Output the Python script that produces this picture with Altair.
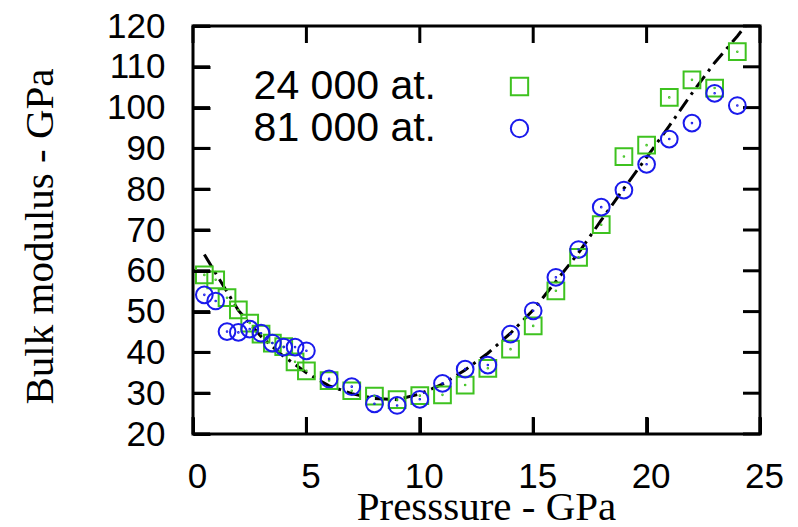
import altair as alt
import pandas as pd

# ---- data ----
series_names = ["24 000 at.", "81 000 at."]

p_24k = [0.5, 1, 1.5, 2, 2.5, 3, 3.5, 4, 4.5, 5, 6, 7, 8, 9, 10, 11, 12, 13, 14, 15,
         16, 17, 18, 19, 20, 21, 22, 23, 24]
b_24k = [59.0, 57.8, 53.4, 50.4, 47.2, 44.5, 42.3, 41.4, 37.7, 35.5, 33.1, 30.6, 29.3,
         28.4, 29.4, 29.6, 32.0, 36.1, 40.8, 46.5, 55.1, 63.3, 71.3, 88.0, 90.8, 102.5,
         106.8, 104.8, 113.7]

p_81k = [0.5, 1, 1.5, 2, 2.5, 3, 3.5, 4, 4.5, 5, 6, 7, 8, 9, 10, 11, 12, 13, 14, 15,
         16, 17, 18, 19, 20, 21, 22, 23, 24]
b_81k = [54.1, 52.6, 45.1, 44.9, 45.7, 44.7, 42.3, 41.3, 41.3, 40.4, 33.5, 31.6, 27.4,
         27.0, 28.5, 32.4, 35.9, 36.9, 44.5, 50.2, 58.4, 65.2, 75.6, 79.8, 86.1, 92.3,
         96.2, 103.5, 100.5]

fit_p = [0.5, 1, 2, 3, 4, 5, 6, 7, 8, 9, 10, 11, 12, 13, 14, 15, 16, 17, 18, 19, 20,
         21, 22, 23, 24, 24.35]
fit_b = [64.0, 59.4, 50.3, 43.9, 39.0, 35.0, 31.8, 29.9, 28.7, 28.4, 29.8, 32.2, 35.7,
         39.8, 44.7, 50.4, 57.4, 64.4, 72.4, 80.2, 87.8, 95.5, 103.5, 111.0, 117.5, 120.0]

x_ticks = [0, 5, 10, 15, 20, 25]
y_ticks = [20, 30, 40, 50, 60, 70, 80, 90, 100, 110, 120]

colors = ["#3ec21f", "#1a1aec"]
shapes = ["square", "circle"]

pts = pd.DataFrame(
    {"p": p_24k + p_81k,
     "b": b_24k + b_81k,
     "series": [series_names[0]] * len(p_24k) + [series_names[1]] * len(p_81k)}
)
fit = pd.DataFrame({"p": fit_p, "b": fit_b})
xt = pd.DataFrame({"v": x_ticks})
yt = pd.DataFrame({"v": y_ticks})

W, H = 567, 408
TICK = 17
xscale = alt.Scale(domain=[0, 25], nice=False, zero=False)
yscale = alt.Scale(domain=[20, 120], nice=False, zero=False)


def make_legend():
    return alt.Legend(orient="none", legendX=306, legendY=40, title=None,
                      labelAlign="right", labelOffset={"expr": "-104"},
                      labelFontSize=41, labelFont="Liberation Sans",
                      labelColor="black", labelLimit=500,
                      symbolSize=300, symbolStrokeWidth=2,
                      symbolFillColor="transparent",
                      rowPadding=0, padding=0)


color_enc = alt.Color("series:N", scale=alt.Scale(domain=series_names, range=colors),
                      legend=make_legend())
shape_enc = alt.Shape("series:N", scale=alt.Scale(domain=series_names, range=shapes),
                      legend=make_legend())

points = alt.Chart(pts).mark_point(filled=False, strokeWidth=2, size=280, opacity=1).encode(
    x=alt.X("p:Q", scale=xscale,
            axis=alt.Axis(orient="bottom", values=x_ticks, offset=-TICK, tickSize=TICK,
                          tickWidth=3, tickColor="black", domain=False, grid=False, zindex=2,
                          labelFont="Liberation Sans", labelFontSize=35, labelColor="black",
                          labelPadding=25, labelFlush=False, labelOffset=4,
                          title="Presssure - GPa", titleFont="Liberation Serif",
                          titleFontSize=41, titleFontWeight="normal", titleColor="black",
                          titleX=293, titleY=102, titleBaseline="alphabetic",
                          titleAlign="center", titleAnchor="middle")),
    y=alt.Y("b:Q", scale=yscale,
            axis=alt.Axis(orient="left", values=y_ticks, offset=-TICK, tickSize=TICK,
                          tickWidth=3, tickColor="black", domain=False, grid=False, zindex=2,
                          labelFont="Liberation Sans", labelFontSize=35, labelColor="black",
                          labelPadding=28, labelFlush=False,
                          title="Bulk modulus - GPa", titleFont="Liberation Serif",
                          titleFontSize=41, titleFontWeight="normal", titleColor="black",
                          titleX=-158, titleY=210, titleBaseline="alphabetic",
                          titleAlign="center", titleAngle=270)),
    color=color_enc,
    shape=shape_enc,
)

dots = alt.Chart(pts).mark_point(filled=False, shape="circle", size=1, strokeWidth=1.6,
                                 opacity=1).encode(
    x=alt.X("p:Q", scale=xscale, axis=None),
    y=alt.Y("b:Q", scale=yscale, axis=None),
    color=alt.Color("series:N", scale=alt.Scale(domain=series_names, range=colors), legend=None),
)

line = alt.Chart(fit).mark_line(color="black", strokeWidth=3, strokeDash=[14, 6, 3, 6]).encode(
    x=alt.X("p:Q", scale=xscale, axis=None),
    y=alt.Y("b:Q", scale=yscale, axis=None),
)

# inward tick marks on all four sides (positions come from the tick value lists)
vtick = dict(color="black", opacity=1, thickness=3, size=TICK, orient="vertical")
htick = dict(color="black", opacity=1, thickness=3, size=TICK, orient="horizontal")
ticks_bottom = alt.Chart(xt).mark_tick(**vtick).encode(
    x=alt.X("v:Q", scale=xscale, axis=None), y=alt.value(H - TICK / 2))
ticks_top = alt.Chart(xt).mark_tick(**vtick).encode(
    x=alt.X("v:Q", scale=xscale, axis=None), y=alt.value(TICK / 2))
ticks_left = alt.Chart(yt).mark_tick(**htick).encode(
    y=alt.Y("v:Q", scale=yscale, axis=None), x=alt.value(TICK / 2))
ticks_right = alt.Chart(yt).mark_tick(**htick).encode(
    y=alt.Y("v:Q", scale=yscale, axis=None), x=alt.value(W - TICK / 2))

chart = alt.layer(
    ticks_bottom, ticks_top, ticks_left, ticks_right, line, points, dots
).resolve_axis(x="independent", y="independent").properties(
    width=W, height=H,
    autosize=alt.AutoSizeParams(type="none"),
    padding={"left": 193, "top": 26, "right": 38, "bottom": 93},
    background="white",
).configure_view(stroke="black", strokeWidth=3)

chart.save("out.html", embed_options={"renderer": "svg", "actions": False})
